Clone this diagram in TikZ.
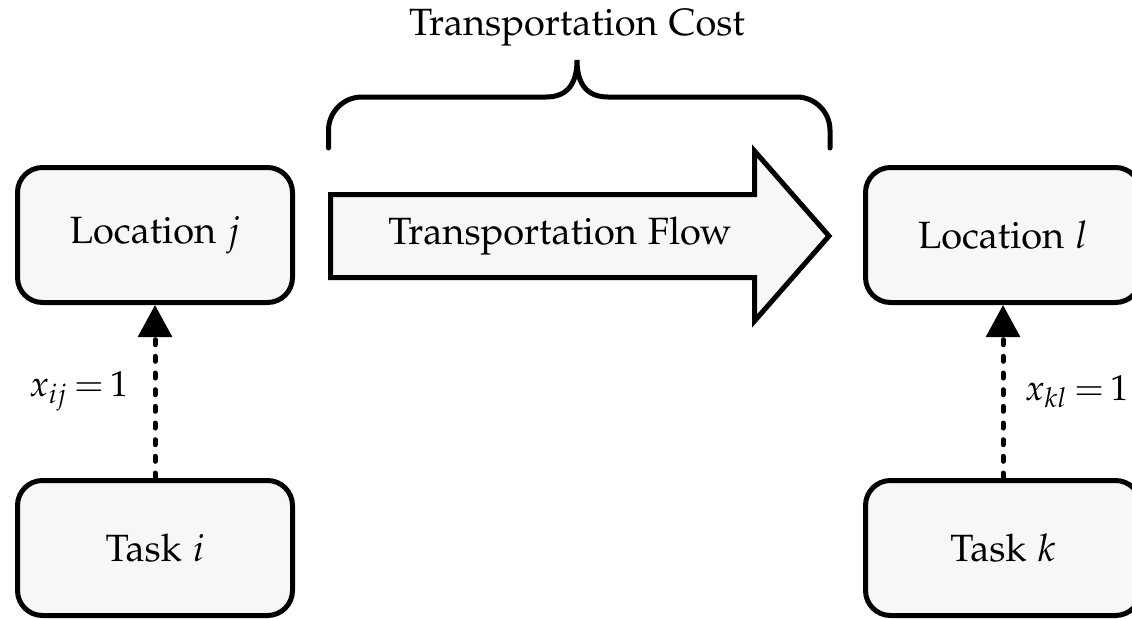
\documentclass[tikz,border=0pt]{standalone}
\usepackage[T1]{fontenc}
\usepackage[osf]{mathpazo}
\usepackage{xcolor}
\usepackage{tikz}
\usetikzlibrary{arrows.meta}
\definecolor{boxfill}{HTML}{F7F7F7}
\tikzset{
	locbox/.style={draw, line width=1.5pt, rounded corners=7.5pt, fill=boxfill, minimum width=82.5pt, minimum height=40.5pt},
	assign/.style={line width=1.5pt, dash pattern=on 1.5pt off 3.5pt, line cap=round, -{Triangle[length=9.6pt, width=10pt]}},
	lbl/.style={font=\fontsize{11.4}{13.7}\selectfont},
	varlbl/.style={font=\fontsize{10.8}{13}\selectfont}
}
\begin{document}
\begin{tikzpicture}[lbl]
	\useasboundingbox (0pt, 0pt) rectangle (339.6pt, 185.4pt);
	\clip (0pt, 0pt) rectangle (339.6pt, 185.4pt);

		\node[locbox] (locj) at (46.5pt, 114.9pt) {Location $j$};
		\node[locbox] (taski) at (46.5pt, 21pt) {Task $i$};
		\node[locbox] (locl) at (300.9pt, 114.9pt) {Location $l$};
		\node[locbox] (taskk) at (300.9pt, 21pt) {Task $k$};

		% transportation flow arrow
		\draw[line width=1.5pt, fill=boxfill] (99.15pt, 127.05pt) -- (226.35pt, 127.05pt) -- (226.35pt, 140.1pt) -- (248.7pt, 114.6pt) -- (226.35pt, 89.1pt) -- (226.35pt, 102.15pt) -- (99.15pt, 102.15pt) -- cycle;
		\node (flow) at (168pt, 114.6pt) {Transportation Flow};

		% brace over the flow
		\draw[line width=1.5pt, line cap=round] (98.55pt, 141pt) -- (98.55pt, 146.3pt) arc[start angle=180, end angle=90, radius=10pt] -- (163.8pt, 156.3pt) .. controls (170pt, 156.3pt) and (173.1pt, 160pt) .. (173.1pt, 167.4pt) .. controls (173.1pt, 160pt) and (176.2pt, 156.3pt) .. (182.4pt, 156.3pt) -- (239pt, 156.3pt) arc[start angle=90, end angle=0, radius=10pt] -- (249pt, 141pt);
		\node (cost) at (173.1pt, 177pt) {Transportation Cost};

		\draw[assign] (taski.north) -- (locj.south) node[midway, left=4pt, varlbl]{$x_{ij}\,{=}\,1$};
		\draw[assign] (taskk.north) -- (locl.south) node[midway, right=2.5pt, varlbl]{$x_{kl}\,{=}\,1$};
	\end{tikzpicture}
\end{document}
